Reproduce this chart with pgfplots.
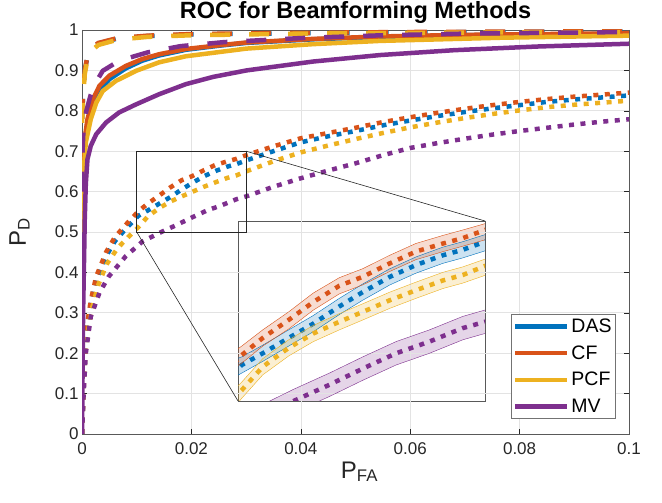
\documentclass[border=0pt]{standalone}
\usepackage{fontspec}
\setmainfont{Liberation Sans}
\usepackage{pgfplots}
\usepackage{pgfplotstable}
\pgfplotsset{compat=1.18}
\usepgfplotslibrary{fillbetween}
\definecolor{cDAS}{rgb}{0,0.447,0.741}
\definecolor{cCF}{rgb}{0.850,0.325,0.098}
\definecolor{cPCF}{rgb}{0.929,0.694,0.125}
\definecolor{cMV}{rgb}{0.494,0.184,0.556}
\definecolor{axgray}{rgb}{0.15,0.15,0.15}
\pgfplotsset{
 solidL/.style={line width=4.5bp, solid},
 dashL/.style={line width=4.5bp, dash pattern=on 20bp off 19bp},
 dotL/.style={line width=4.5bp, dash pattern=on 5bp off 6.5bp},
}
% dotted curves
\pgfplotstableread{
x y
0 0
0.0002 0.08
0.0004 0.16
0.0007 0.24
0.0016 0.32
0.0026 0.38
0.0044 0.44
0.006 0.477
0.008 0.508
0.0103 0.540
0.012 0.553
0.0141 0.570
0.0161 0.586
0.0182 0.605
0.0201 0.621
0.0223 0.638
0.0244 0.651
0.0266 0.662
0.0282 0.668
0.03 0.677
0.035 0.700
0.04 0.722
0.045 0.737
0.05 0.750
0.055 0.764
0.06 0.776
0.065 0.787
0.07 0.797
0.075 0.806
0.08 0.814
0.085 0.822
0.09 0.828
0.095 0.833
0.1 0.838
}\dotDAS
\pgfplotstableread{
x y
0 0
0.0002 0.08
0.0004 0.17
0.0007 0.25
0.0016 0.33
0.0026 0.39
0.0044 0.45
0.006 0.487
0.008 0.518
0.0103 0.551
0.012 0.570
0.0141 0.590
0.0161 0.610
0.0182 0.628
0.0201 0.638
0.0223 0.653
0.0244 0.666
0.0266 0.675
0.0282 0.681
0.03 0.690
0.035 0.712
0.04 0.732
0.045 0.745
0.05 0.758
0.055 0.772
0.06 0.784
0.065 0.795
0.07 0.805
0.075 0.814
0.08 0.822
0.085 0.829
0.09 0.835
0.095 0.840
0.1 0.845
}\dotCF
\pgfplotstableread{
x y
0 0
0.0002 0.07
0.0004 0.15
0.0008 0.23
0.0018 0.31
0.003 0.37
0.0045 0.42
0.0065 0.46
0.0085 0.488
0.0103 0.512
0.012 0.538
0.0141 0.559
0.0161 0.575
0.0182 0.588
0.0201 0.599
0.0223 0.612
0.0244 0.623
0.0266 0.634
0.0282 0.640
0.03 0.650
0.035 0.675
0.04 0.697
0.045 0.714
0.05 0.730
0.055 0.745
0.06 0.759
0.065 0.771
0.07 0.782
0.075 0.792
0.08 0.801
0.085 0.809
0.09 0.815
0.095 0.820
0.1 0.825
}\dotPCF
\pgfplotstableread{
x y
0 0
0.0003 0.1
0.0007 0.2
0.0016 0.29
0.0032 0.35
0.0049 0.39
0.008 0.44
0.0111 0.477
0.0145 0.50
0.0174 0.518
0.0201 0.536
0.0228 0.553
0.0255 0.566
0.0282 0.581
0.03 0.588
0.035 0.612
0.04 0.633
0.045 0.652
0.05 0.670
0.055 0.690
0.06 0.708
0.065 0.720
0.07 0.731
0.075 0.741
0.08 0.750
0.085 0.758
0.09 0.766
0.095 0.773
0.1 0.779
}\dotMV
% confidence bands (inset)
\pgfplotstableread{
x lo hi
0.0095 0.525 0.545
0.0103 0.531 0.549
0.0120 0.544 0.562
0.0141 0.561 0.579
0.0161 0.577 0.595
0.0182 0.596 0.614
0.0201 0.612 0.630
0.0223 0.629 0.647
0.0244 0.642 0.660
0.0266 0.653 0.671
0.0282 0.659 0.677
0.0305 0.669 0.687
}\bandDAS
\pgfplotstableread{
x lo hi
0.0095 0.535 0.553
0.0103 0.542 0.561
0.0120 0.561 0.579
0.0141 0.580 0.599
0.0161 0.601 0.620
0.0182 0.619 0.637
0.0201 0.629 0.647
0.0223 0.644 0.662
0.0244 0.657 0.675
0.0266 0.666 0.684
0.0282 0.672 0.690
0.0305 0.681 0.699
}\bandCF
\pgfplotstableread{
x lo hi
0.0095 0.490 0.510
0.0103 0.503 0.521
0.0120 0.529 0.547
0.0141 0.550 0.568
0.0161 0.566 0.584
0.0182 0.579 0.597
0.0201 0.590 0.608
0.0223 0.603 0.621
0.0244 0.614 0.632
0.0266 0.625 0.643
0.0282 0.631 0.649
0.0305 0.642 0.660
}\bandPCF
\pgfplotstableread{
x lo hi
0.0111 0.464 0.490
0.0145 0.487 0.513
0.0174 0.505 0.531
0.0201 0.523 0.549
0.0228 0.540 0.566
0.0255 0.553 0.579
0.0282 0.568 0.594
0.0305 0.577 0.603
}\bandMV
\begin{document}
\begin{tikzpicture}
\path (0,0) rectangle (662bp,503bp);
\begin{axis}[
 at={(82bp,69bp)}, anchor=south west,
 scale only axis, width=547bp, height=404bp,
 xmin=0, xmax=0.1, ymin=0, ymax=1,
 xtick={0,0.02,0.04,0.06,0.08,0.1},
 xticklabels={0,0.02,0.04,0.06,0.08,0.1},
 ytick={0,0.1,0.2,0.3,0.4,0.5,0.6,0.7,0.8,0.9,1},
 yticklabels={0,0.1,0.2,0.3,0.4,0.5,0.6,0.7,0.8,0.9,1},
 tick align=inside, major tick length=5bp,
 tick style={axgray, line width=0.5bp},
 axis line style={draw=black!65, line width=0.6bp},
 grid=major, major grid style={color=black!11, line width=0.6bp},
 ticklabel style={font=\fontsize{17bp}{20bp}\selectfont, text=axgray},
 xticklabel style={yshift=-5bp},
 title={ROC for Beamforming Methods},
 title style={font=\bfseries\fontsize{23.5bp}{26bp}\selectfont, at={(0.5,1)}, anchor=base, yshift=6bp, inner sep=0pt},
 xlabel={P\textsubscript{FA}},
 ylabel={P\textsubscript{D}},
 label style={font=\fontsize{24bp}{28bp}\selectfont, text=axgray, inner sep=0pt},
 xlabel style={at={(0.5,0)}, anchor=base, yshift=-44bp, xshift=4bp},
 ylabel style={at={(0,0.5)}, anchor=base, yshift=56bp},
 legend style={at={(0.976,0.037)}, anchor=south east, draw=black!55, line width=0.6bp, fill=white,
   font=\fontsize{19.5bp}{22bp}\selectfont, inner xsep=2bp, inner ysep=3bp, row sep=7.5bp},
 legend cell align=left,
 legend image code/.code={\draw[#1, solid, line width=4.5bp] (0bp,0bp) -- (52bp,0bp);},
]
% DAS
\addplot[cDAS, solidL] coordinates {(0,0.5)(0.0001,0.58)(0.0002,0.65)(0.0004,0.71)(0.001,0.77)(0.002,0.815)(0.0032,0.85)(0.005,0.878)(0.008,0.905)(0.011,0.924)(0.0141,0.937)(0.019,0.951)(0.025,0.961)(0.03,0.968)(0.0423,0.977)(0.0545,0.983)(0.07,0.987)(0.085,0.989)(0.1,0.991)};
\addlegendentry{DAS}
\addplot[cDAS, dashL, forget plot] coordinates {(0,0.78)(0.0002,0.84)(0.0005,0.9)(0.001,0.934)(0.002,0.957)(0.003,0.967)(0.0065,0.979)(0.012,0.985)(0.02,0.989)(0.04,0.992)(0.06,0.994)(0.1,0.996)};
\addplot[cDAS, dotL, forget plot] table {\dotDAS};
% CF
\addplot[cCF, solidL] coordinates {(0,0.52)(0.0001,0.6)(0.0002,0.66)(0.0004,0.722)(0.001,0.779)(0.002,0.829)(0.0032,0.862)(0.005,0.887)(0.008,0.911)(0.011,0.928)(0.0141,0.940)(0.019,0.953)(0.025,0.962)(0.03,0.969)(0.0423,0.978)(0.0545,0.984)(0.07,0.988)(0.085,0.990)(0.1,0.992)};
\addlegendentry{CF}
\addplot[cCF, dashL, forget plot] coordinates {(0,0.78)(0.0002,0.84)(0.0005,0.9)(0.001,0.935)(0.002,0.958)(0.003,0.968)(0.0065,0.980)(0.012,0.986)(0.02,0.99)(0.04,0.993)(0.06,0.995)(0.1,0.997)};
\addplot[cCF, dotL, forget plot] table {\dotCF};
% PCF
\addplot[cPCF, solidL] coordinates {(0,0.5)(0.0001,0.57)(0.0002,0.63)(0.0007,0.722)(0.0016,0.779)(0.0026,0.82)(0.0038,0.849)(0.0062,0.874)(0.0099,0.899)(0.0141,0.92)(0.019,0.935)(0.0301,0.954)(0.0423,0.965)(0.0545,0.973)(0.077,0.981)(0.1,0.986)};
\addlegendentry{PCF}
\addplot[cPCF, dashL, forget plot] coordinates {(0,0.77)(0.0002,0.83)(0.0005,0.89)(0.001,0.928)(0.002,0.952)(0.003,0.963)(0.0065,0.976)(0.012,0.983)(0.02,0.987)(0.04,0.991)(0.06,0.993)(0.1,0.995)};
\addplot[cPCF, dotL, forget plot] table {\dotPCF};
% MV
\addplot[cMV, solidL] coordinates {(0,0)(0.0001,0.15)(0.0002,0.3)(0.0004,0.45)(0.0005,0.53)(0.0007,0.62)(0.001,0.68)(0.0016,0.713)(0.0026,0.742)(0.0044,0.771)(0.0068,0.796)(0.0099,0.816)(0.0141,0.841)(0.019,0.866)(0.024,0.884)(0.0301,0.900)(0.0423,0.922)(0.0545,0.938)(0.068,0.950)(0.083,0.959)(0.1,0.966)};
\addlegendentry{MV}
\addplot[cMV, dashL, forget plot] coordinates {(0,0.6)(0.0001,0.7)(0.0003,0.76)(0.0008,0.80)(0.0016,0.84)(0.0025,0.87)(0.0038,0.899)(0.0068,0.924)(0.0121,0.945)(0.0153,0.953)(0.018,0.96)(0.026,0.97)(0.04,0.98)(0.055,0.987)(0.07,0.991)(0.085,0.993)(0.1,0.995)};
\addplot[cMV, dotL, forget plot] table {\dotMV};
\coordinate (rSW) at (axis cs:0.01,0.5);
\coordinate (rNE) at (axis cs:0.03,0.7);
\draw[black!85, line width=0.6bp] (rSW) rectangle (rNE);
\end{axis}
\begin{axis}[
 at={(238bp,102bp)}, anchor=south west,
 scale only axis, width=247bp, height=180bp,
 xmin=0.01, xmax=0.03, ymin=0.5, ymax=0.7,
 xtick=\empty, ytick=\empty,
 axis background/.style={fill=white},
 axis line style={draw=black!65, line width=0.6bp},
]
\addplot[name path=dasU, cDAS, line width=0.4bp] table[x=x,y=hi] {\bandDAS};
\addplot[name path=dasL, cDAS, line width=0.4bp] table[x=x,y=lo] {\bandDAS};
\addplot[cDAS, fill opacity=0.2, draw=none] fill between[of=dasU and dasL];
\addplot[cDAS, dotL] table {\dotDAS};
\addplot[name path=cfU, cCF, line width=0.4bp] table[x=x,y=hi] {\bandCF};
\addplot[name path=cfL, cCF, line width=0.4bp] table[x=x,y=lo] {\bandCF};
\addplot[cCF, fill opacity=0.2, draw=none] fill between[of=cfU and cfL];
\addplot[cCF, dotL] table {\dotCF};
\addplot[name path=pcfU, cPCF, line width=0.4bp] table[x=x,y=hi] {\bandPCF};
\addplot[name path=pcfL, cPCF, line width=0.4bp] table[x=x,y=lo] {\bandPCF};
\addplot[cPCF, fill opacity=0.2, draw=none] fill between[of=pcfU and pcfL];
\addplot[cPCF, dotL] table {\dotPCF};
\addplot[name path=mvU, cMV, line width=0.4bp] table[x=x,y=hi] {\bandMV};
\addplot[name path=mvL, cMV, line width=0.4bp] table[x=x,y=lo] {\bandMV};
\addplot[cMV, fill opacity=0.2, draw=none] fill between[of=mvU and mvL];
\addplot[cMV, dotL] table {\dotMV};
\end{axis}
\draw[black!85, line width=0.6bp] (rNE) -- (485bp,282bp);
\draw[black!85, line width=0.6bp] (rSW) -- (238bp,102bp);
\end{tikzpicture}
\end{document}
